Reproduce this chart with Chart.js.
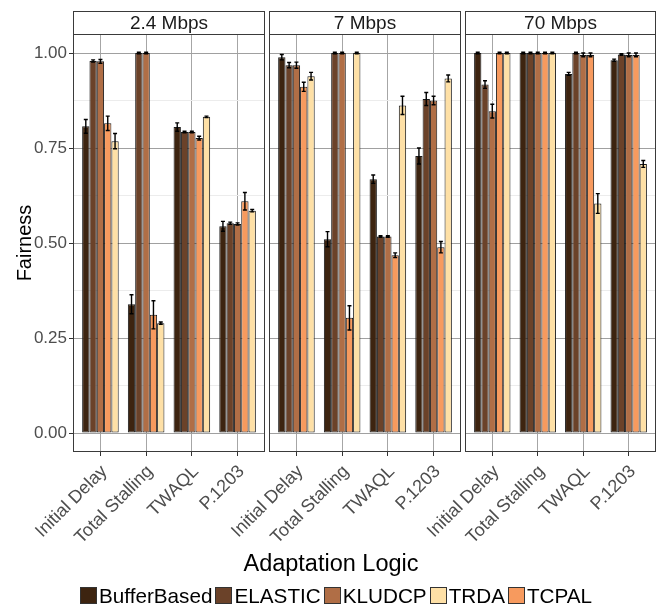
<!DOCTYPE html>
<html>
<head>
<meta charset="utf-8">
<script src="https://cdn.jsdelivr.net/npm/chart.js@4.4.0/dist/chart.umd.min.js"></script>
<style>
html,body{margin:0;padding:0;background:#fff;}
#wrap{position:relative;width:659px;height:608px;overflow:hidden;font-family:"Liberation Sans",Arial,sans-serif;background:#fff;}
#wrap canvas{position:absolute;left:0;top:0;}
#legTitle{position:absolute;left:0;width:662px;top:552px;text-align:center;font-size:23.5px;line-height:23.5px;color:#000;white-space:nowrap;}
#legItems{position:absolute;left:80px;top:587px;display:flex;align-items:center;height:17px;}
.li{display:flex;align-items:center;margin-right:3px;}
.sw{width:17px;height:17px;box-sizing:border-box;border:1px solid #333;margin-right:2px;}
.lt{font-size:20.7px;line-height:17px;color:#000;white-space:nowrap;}
</style>
</head>
<body>
<div id="wrap">
  <canvas id="c0" width="659" height="608"></canvas>
  <canvas id="c1" width="659" height="608"></canvas>
  <canvas id="c2" width="659" height="608"></canvas>
  <div id="legTitle">Adaptation Logic</div>
  <div id="legItems"></div>
</div>
<script>
// ---------- DATA ----------
const panels = ['2.4 Mbps', '7 Mbps', '70 Mbps'];
const categories = ['Initial Delay', 'Total Stalling', 'TWAQL', 'P.1203'];
const seriesNames = ['BufferBased', 'ELASTIC', 'KLUDCP', 'TCPAL', 'TRDA'];   // bar order
const legendOrder = ['BufferBased', 'ELASTIC', 'KLUDCP', 'TRDA', 'TCPAL'];   // legend order
const yTickLabels = [0, 0.25, 0.5, 0.75, 1];
const yMinorTicks = [0.125, 0.375, 0.625, 0.875];

// values[panel][category]
const bufferBased = [[0.807, 0.339, 0.805, 0.544], [0.989, 0.510, 0.668, 0.729], [1.000, 1.000, 0.945, 0.981]];
const elastic     = [[0.979, 1.000, 0.792, 0.552], [0.968, 1.000, 0.517, 0.879], [0.917, 1.000, 1.000, 0.996]];
const kludcp      = [[0.978, 1.000, 0.792, 0.550], [0.968, 1.000, 0.517, 0.875], [0.847, 1.000, 0.995, 0.995]];
const tcpal       = [[0.815, 0.311, 0.776, 0.610], [0.911, 0.303, 0.468, 0.489], [1.000, 1.000, 0.995, 0.995]];
const trda        = [[0.768, 0.289, 0.832, 0.585], [0.939, 1.000, 0.862, 0.933], [1.000, 1.000, 0.604, 0.708]];

// error half-widths[panel][category]
const bufferBasedErr = [[0.018, 0.025, 0.011, 0.013], [0.007, 0.020, 0.011, 0.021], [0.002, 0.002, 0.004, 0.003]];
const elasticErr     = [[0.003, 0.002, 0.002, 0.003], [0.007, 0.002, 0.002, 0.017], [0.010, 0.002, 0.002, 0.002]];
const kludcpErr      = [[0.005, 0.002, 0.002, 0.003], [0.008, 0.002, 0.002, 0.011], [0.018, 0.002, 0.005, 0.005]];
const tcpalErr       = [[0.019, 0.037, 0.005, 0.023], [0.012, 0.032, 0.006, 0.015], [0.002, 0.002, 0.005, 0.005]];
const trdaErr        = [[0.020, 0.003, 0.002, 0.003], [0.010, 0.002, 0.024, 0.009], [0.002, 0.002, 0.026, 0.009]];

// ---------- STYLE ----------
const seriesValues = {BufferBased: bufferBased, ELASTIC: elastic, KLUDCP: kludcp, TCPAL: tcpal, TRDA: trda};
const seriesErrors = {BufferBased: bufferBasedErr, ELASTIC: elasticErr, KLUDCP: kludcpErr, TCPAL: tcpalErr, TRDA: trdaErr};
const seriesColors = {BufferBased: '#3d2410', ELASTIC: '#6b4229', KLUDCP: '#b06e46', TCPAL: '#f79a5e', TRDA: '#fee0a6'};

const panelLeft = [73, 269, 465];
const panelRight = [265, 461, 656];
const CANVAS_W = 659, CANVAS_H = 608;
const PANEL_TOP = 34, PANEL_BOTTOM = 452, STRIP_TOP = 11;
const FONT = "'Liberation Sans', Arial, sans-serif";
Chart.defaults.font.family = FONT;

const isMajor = v => yTickLabels.some(t => Math.abs(t - v) < 1e-9);

const errorBars = {
  id: 'errorBars',
  afterDatasetsDraw(chart) {
    const ctx = chart.ctx, ys = chart.scales.y;
    const pi = chart.options.plugins.errorBars.panel;
    chart.data.datasets.forEach((ds, di) => {
      const meta = chart.getDatasetMeta(di);
      const errs = seriesErrors[ds.label][pi];
      meta.data.forEach((bar, i) => {
        const v = ds.data[i].y, e = errs[i];
        const x = bar.x;
        const yt = ys.getPixelForValue(v + e), yb = ys.getPixelForValue(v - e);
        const cap = 2;
        ctx.save();
        ctx.strokeStyle = '#000';
        ctx.lineWidth = 1.4;
        ctx.beginPath();
        ctx.moveTo(x, yt); ctx.lineTo(x, yb);
        ctx.moveTo(x - cap, yt); ctx.lineTo(x + cap, yt);
        ctx.moveTo(x - cap, yb); ctx.lineTo(x + cap, yb);
        ctx.stroke();
        ctx.restore();
      });
    });
  }
};

const panelFrame = {
  id: 'panelFrame',
  afterDraw(chart) {
    const ctx = chart.ctx, a = chart.chartArea;
    const title = chart.options.plugins.panelFrame.title;
    const L = Math.round(a.left) + 0.5, R = Math.round(a.right) - 0.5;
    const T = Math.round(a.top) + 0.5, B = Math.round(a.bottom) - 0.5;
    ctx.save();
    ctx.strokeStyle = '#3a3a3a';
    ctx.lineWidth = 1;
    ctx.strokeRect(L, T, R - L, B - T);
    // strip
    ctx.fillStyle = '#fff';
    ctx.fillRect(L, STRIP_TOP + 0.5, R - L, T - STRIP_TOP - 0.5);
    ctx.strokeRect(L, STRIP_TOP + 0.5, R - L, T - STRIP_TOP - 0.5);
    ctx.fillStyle = '#1a1a1a';
    ctx.font = '19px ' + FONT;
    ctx.textAlign = 'center';
    ctx.textBaseline = 'middle';
    ctx.fillText(title, (a.left + a.right) / 2, (STRIP_TOP + a.top) / 2 + 1);
    ctx.restore();
  }
};

panels.forEach((p, pi) => {
  const first = pi === 0;
  const datasets = seriesNames.map(name => ({
    label: name,
    data: categories.map((c, ci) => ({x: ci, y: seriesValues[name][pi][ci]})),
    backgroundColor: seriesColors[name],
    borderColor: '#1a1a1a',
    borderWidth: 1,
    borderSkipped: false,
    categoryPercentage: 0.8,
    barPercentage: 1
  }));
  new Chart(document.getElementById('c' + pi), {
    type: 'bar',
    data: {datasets},
    plugins: [errorBars, panelFrame],
    options: {
      responsive: false,
      animation: false,
      events: [],
      layout: {padding: {left: first ? 0 : panelLeft[pi], right: CANVAS_W - panelRight[pi], top: PANEL_TOP, bottom: 0}},
      plugins: {
        legend: {display: false},
        tooltip: {enabled: false},
        errorBars: {panel: pi},
        panelFrame: {title: p}
      },
      scales: {
        x: {
          type: 'linear',
          min: -0.6, max: 3.6,
          offset: false,
          afterBuildTicks: s => { s.ticks = categories.map((c, i) => ({value: i})); },
          afterFit: s => { s.height = CANVAS_H - PANEL_BOTTOM; },
          grid: {offset: false, color: '#a6a6a6', lineWidth: 1, tickLength: 4, tickColor: '#333', drawTicks: true},
          border: {display: false},
          ticks: {
            autoSkip: false, minRotation: 45, maxRotation: 45, padding: 5, labelOffset: 4,
            color: '#4d4d4d', font: {size: 18},
            callback: v => categories[v]
          }
        },
        y: {
          min: -0.05, max: 1.05,
          afterBuildTicks: s => {
            s.ticks = yTickLabels.concat(yMinorTicks).sort((a, b) => a - b).map(v => ({value: v}));
          },
          afterFit: s => { s.width = first ? panelLeft[0] : 0; },
          grid: {
            color: c => isMajor(c.tick.value) ? '#a0a0a0' : '#ececec',
            lineWidth: 1,
            drawTicks: first,
            tickLength: 4,
            tickColor: c => isMajor(c.tick.value) ? '#333' : 'rgba(0,0,0,0)'
          },
          border: {display: false},
          ticks: {
            display: first,
            padding: 2,
            color: '#4d4d4d',
            font: {size: 17},
            callback: v => isMajor(v) ? v.toFixed(2) : ''
          },
          title: {
            display: first,
            text: 'Fairness',
            color: '#000',
            font: {size: 20},
            padding: {top: 13, bottom: 0}
          }
        }
      }
    }
  });
});

// HTML legend built from the series lists
const leg = document.getElementById('legItems');
legendOrder.forEach(name => {
  const item = document.createElement('div');
  item.className = 'li';
  const sw = document.createElement('div');
  sw.className = 'sw';
  sw.style.background = seriesColors[name];
  const t = document.createElement('span');
  t.className = 'lt';
  t.textContent = name;
  item.appendChild(sw); item.appendChild(t);
  leg.appendChild(item);
});
</script>
</body>
</html>
